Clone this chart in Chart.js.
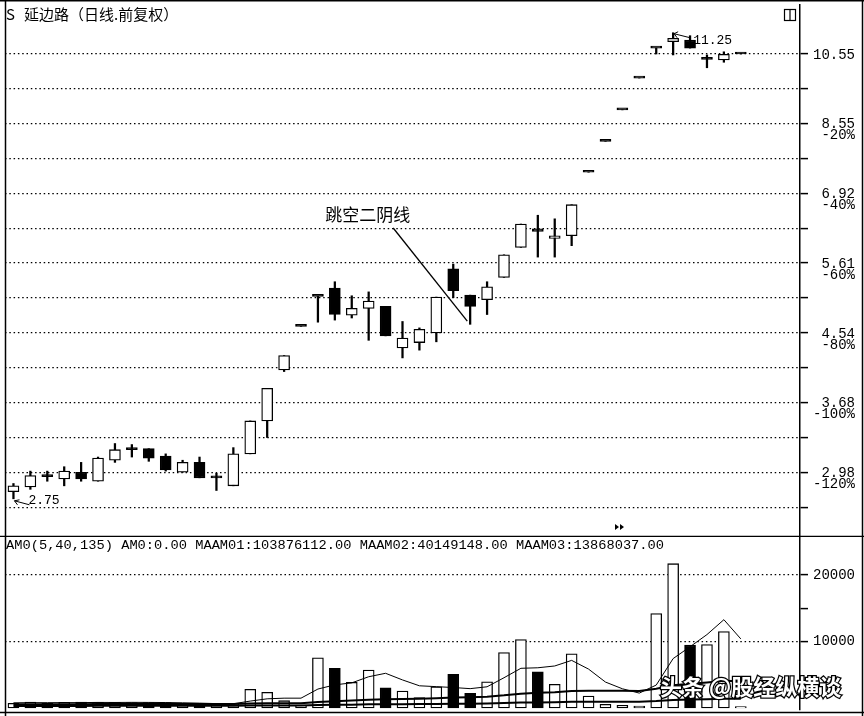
<!DOCTYPE html>
<html><head><meta charset="utf-8">
<script src="https://cdn.jsdelivr.net/npm/chart.js@4.4.0/dist/chart.umd.min.js"></script>
<style>
html,body{margin:0;padding:0;background:#fff;}
#wrap{position:relative;width:864px;height:716px;overflow:hidden;background:#fff;}
#c1{position:absolute;left:0;top:0;}
#c2{position:absolute;left:0;top:537px;}
</style></head><body>
<div id="wrap"><canvas id="c1" width="864" height="537"></canvas><canvas id="c2" width="864" height="179"></canvas></div>
<script>
// ---------- data ----------
const titleCode = 'S';
const titleName = '延边路（日线.前复权）';
const days = ['1','2','3','4','5','6','7','8','9','10','11','12','13','14','15','16','17','18','19','20','21','22','23','24','25','26','27','28','29','30','31','32','33','34','35','36','37','38','39','40','41','42','43','44','','',''];
const openP  = [2.81,2.85,2.94,2.92,2.98,2.90,3.09,3.19,3.20,3.13,2.98,3.07,2.93,2.86,3.15,3.48,4.06,4.63,5.07,5.20,4.79,4.89,4.92,4.34,4.41,4.54,5.51,5.09,5.02,5.37,5.88,6.22,6.04,6.09,7.38,8.10,8.91,9.81,10.74,10.95,11.00,10.38,10.36,10.55];
const highP  = [2.88,2.99,2.99,3.03,3.07,3.12,3.25,3.24,3.20,3.15,3.09,3.12,2.97,3.21,3.48,3.84,4.24,4.63,5.07,5.30,5.08,5.14,4.92,4.70,4.61,5.06,5.59,5.09,5.30,5.75,6.31,6.48,6.41,6.69,7.38,8.10,8.91,9.81,10.74,11.25,11.15,10.52,10.62,10.55];
const lowP   = [2.75,2.83,2.90,2.86,2.90,2.90,3.07,3.12,3.08,2.99,2.98,2.93,2.82,2.86,3.15,3.31,4.04,4.63,4.69,4.72,4.75,4.44,4.50,4.21,4.31,4.42,5.05,4.66,4.80,5.37,5.88,5.71,5.71,5.91,7.38,8.10,8.91,9.81,10.55,10.52,10.74,10.12,10.29,10.55];
const closeP = [2.86,2.95,2.94,2.99,2.92,3.11,3.19,3.19,3.11,3.00,3.07,2.93,2.93,3.15,3.48,3.84,4.24,4.63,5.07,4.80,4.89,5.00,4.50,4.47,4.59,5.06,5.16,4.92,5.22,5.75,6.31,6.17,6.09,6.69,7.38,8.10,8.91,9.81,10.74,11.06,10.74,10.38,10.54,10.55];
const volume = [700,900,700,850,900,850,850,800,800,800,650,600,450,700,2800,2350,1100,450,7550,5950,3850,5700,3050,2550,1550,3200,5050,2200,3950,8350,10300,5450,3550,8150,1800,550,400,300,14200,21700,9450,9550,11500,200];
const maam1  = [780,800,800,810,810,840,830,850,840,820,780,730,660,640,1040,1380,1480,1480,2850,3480,3780,4700,5220,4220,3340,3210,3080,2910,3190,4550,5970,6050,6320,7160,5850,3900,2890,2240,3450,7430,9210,11040,13280,10390];
const maam2  = [560,565,570,575,580,585,590,595,600,605,605,600,600,600,660,710,730,730,900,1030,1110,1240,1310,1360,1390,1460,1570,1620,1710,1900,2150,2280,2360,2550,2580,2580,2575,2565,2900,3420,3640,3850,4110,4015];
const maam3  = [300,305,308,312,316,320,323,326,330,333,336,338,340,342,360,375,382,384,440,480,505,545,565,580,588,605,640,655,680,740,810,840,865,925,935,937,937,937,1040,1200,1265,1330,1385,1387];
const priceTicks  = [2.68,2.98,3.31,3.68,4.09,4.54,5.05,5.61,6.23,6.92,7.69,8.55,9.50,10.55];
const priceLabels = ['','2.98','','3.68','','4.54','','5.61','','6.92','','8.55','','10.55'];
const pctLabels   = ['','-120%','','-100%','','-80%','','-60%','','-40%','','-20%','',''];
const volTicks  = [10000,15000,20000];
const volLabels = ['10000','','20000'];
const volLegend = 'AM0(5,40,135) AM0:0.00 MAAM01:103876112.00 MAAM02:40149148.00 MAAM03:13868037.00';
const noteText = '跳空二阴线';
const notePos  = [20.95, 6.49];
const noteLine = [[22.45, 6.235], [26.83, 4.706]];
const lowMark  = [0, 2.75, '2.75'];
const highMark = [39, 11.25, '11.25'];
const watermark = '头条 @股经纵横谈';

// ---------- build ----------
const idx = openP.map((_, i) => i);
const down = idx.map(i => closeP[i] < openP[i]);
const flat = idx.map(i => closeP[i] === openP[i]);
const bodyColor = idx.map(i => (down[i] || flat[i]) ? '#000' : '#fff');
const volColor = idx.map(i => down[i] ? '#000' : '#fff');
const MONO = "'Liberation Mono', 'DejaVu Sans Mono', monospace";
const CJK = "'Noto Sans CJK SC', sans-serif";

function fixAxis(s){ s.width = 55; s.paddingTop = 0; s.paddingBottom = 0; }
const xAxis = { type: 'category', labels: days, offset: true, display: false };

const deco1 = {
  id: 'deco1',
  afterDraw(chart){
    const ctx = chart.ctx, xs = chart.scales.x, ys = chart.scales.y;
    ctx.save();
    ctx.strokeStyle = '#000'; ctx.fillStyle = '#000'; ctx.lineWidth = 1.5;
    ctx.beginPath();
    ctx.moveTo(0, 0.75); ctx.lineTo(864, 0.75);
    ctx.moveTo(5.5, 0); ctx.lineTo(5.5, 537);
    ctx.moveTo(862.5, 0); ctx.lineTo(862.5, 537);
    ctx.moveTo(0, 536.5); ctx.lineTo(864, 536.5);
    ctx.stroke();
    ctx.textBaseline = 'middle'; ctx.textAlign = 'left';
    ctx.font = "15px " + CJK;
    ctx.fillText(titleCode, 6, 14);
    ctx.fillText(titleName, 24, 14);
    ctx.lineWidth = 1.2;
    ctx.strokeRect(784.5, 9.5, 11, 11);
    ctx.beginPath(); ctx.moveTo(790, 9.5); ctx.lineTo(790, 20.5); ctx.stroke();
    ctx.font = "17px " + CJK; ctx.textAlign = 'center';
    ctx.fillText(noteText, xs.getPixelForValue(notePos[0]), ys.getPixelForValue(notePos[1]));
    ctx.lineWidth = 1.3;
    ctx.beginPath();
    ctx.moveTo(xs.getPixelForValue(noteLine[0][0]), ys.getPixelForValue(noteLine[0][1]));
    ctx.lineTo(xs.getPixelForValue(noteLine[1][0]), ys.getPixelForValue(noteLine[1][1]));
    ctx.stroke();
    ctx.font = "13px " + MONO; ctx.textAlign = 'left'; ctx.lineWidth = 1;
    let lx = xs.getPixelForValue(lowMark[0]), ly = ys.getPixelForValue(lowMark[1]);
    ctx.beginPath(); ctx.moveTo(lx + 1, ly + 2); ctx.lineTo(lx + 16, ly + 6);
    ctx.moveTo(lx + 1, ly + 2); ctx.lineTo(lx + 6, ly + 1);
    ctx.moveTo(lx + 1, ly + 2); ctx.lineTo(lx + 4, ly + 6);
    ctx.stroke();
    ctx.fillText(lowMark[2], lx + 15, ly + 2);
    let hx = xs.getPixelForValue(highMark[0]), hy = ys.getPixelForValue(highMark[1]);
    ctx.beginPath(); ctx.moveTo(hx + 1, hy + 1); ctx.lineTo(hx + 17, hy + 5);
    ctx.moveTo(hx + 1, hy + 1); ctx.lineTo(hx + 5, hy - 1);
    ctx.moveTo(hx + 1, hy + 1); ctx.lineTo(hx + 4, hy + 5);
    ctx.stroke();
    ctx.fillText(highMark[2], hx + 20, hy + 8);
    ctx.beginPath();
    ctx.moveTo(615, 524); ctx.lineTo(619, 527); ctx.lineTo(615, 530); ctx.closePath();
    ctx.moveTo(620, 524); ctx.lineTo(624, 527); ctx.lineTo(620, 530); ctx.closePath();
    ctx.fill();
    ctx.restore();
  }
};

new Chart(document.getElementById('c1'), {
  type: 'bar',
  data: { labels: days, datasets: [
    { data: idx.map(i => [openP[i], closeP[i]]), backgroundColor: bodyColor, borderColor: '#000',
      borderWidth: 1.3, borderSkipped: false, barThickness: 11, minBarLength: 2, grouped: false, order: 0 },
    { data: idx.map(i => [lowP[i], highP[i]]), backgroundColor: '#000', borderWidth: 0,
      barThickness: 1.6, grouped: false, order: 1 }
  ]},
  options: {
    responsive: false, animation: false, events: [],
    layout: { padding: { left: 5, top: 5, right: 9, bottom: 0 } },
    plugins: { legend: { display: false }, tooltip: { enabled: false } },
    scales: {
      x: xAxis,
      y: { type: 'logarithmic', position: 'right', min: 2.4501, max: 12.234,
        afterBuildTicks: s => { s.ticks = priceTicks.map(v => ({ value: v })); },
        afterFit: fixAxis,
        ticks: { callback: (v, i) => [priceLabels[i], pctLabels[i]], color: '#000', crossAlign: 'far',
          padding: 4, labelOffset: 6.5, autoSkip: false, font: { family: MONO, size: 14, lineHeight: 0.8 } },
        grid: { color: '#000', lineWidth: 1.2, tickLength: 8, tickColor: '#000', tickWidth: 1.5, tickBorderDash: [] },
        border: { display: true, color: '#000', width: 1.5, dash: [1.5, 2.8] }
      }
    }
  },
  plugins: [deco1]
});

const deco2 = {
  id: 'deco2',
  afterDraw(chart){
    const ctx = chart.ctx;
    ctx.save();
    ctx.strokeStyle = '#000'; ctx.fillStyle = '#000'; ctx.lineWidth = 1.5;
    ctx.beginPath();
    ctx.moveTo(5.5, 0); ctx.lineTo(5.5, 179);
    ctx.moveTo(862.5, 0); ctx.lineTo(862.5, 179);
    ctx.moveTo(0, 175.5); ctx.lineTo(864, 175.5);
    ctx.stroke();
    ctx.font = "13px " + MONO; ctx.textBaseline = 'middle'; ctx.textAlign = 'left';
    const w = ctx.measureText(volLegend).width;
    ctx.translate(6, 9); ctx.scale(658 / w, 1);
    ctx.fillText(volLegend, 0, 0);
    ctx.restore();
    ctx.save();
    ctx.font = "bold 22px " + CJK; ctx.textBaseline = 'middle'; ctx.textAlign = 'left';
    ctx.lineWidth = 2.5; ctx.strokeStyle = '#000'; ctx.fillStyle = '#fff';
    ctx.strokeText(watermark, 660, 150);
    ctx.fillText(watermark, 660, 150);
    ctx.restore();
  }
};

new Chart(document.getElementById('c2'), {
  type: 'bar',
  data: { labels: days, datasets: [
    { type: 'line', data: maam1, borderColor: '#000', borderWidth: 1, pointRadius: 0, order: -3 },
    { type: 'line', data: maam2, borderColor: '#000', borderWidth: 2, pointRadius: 0, order: -2 },
    { type: 'line', data: maam3, borderColor: '#000', borderWidth: 2, pointRadius: 0, order: -1 },
    { data: volume, backgroundColor: volColor, borderColor: '#000', borderWidth: 1.3,
      borderSkipped: false, barThickness: 11, grouped: false, order: 0 }
  ]},
  options: {
    responsive: false, animation: false, events: [],
    layout: { padding: { left: 5, top: 0, right: 9, bottom: 6 } },
    plugins: { legend: { display: false }, tooltip: { enabled: false } },
    scales: {
      x: xAxis,
      y: { type: 'linear', position: 'right', min: -301, max: 25714,
        afterBuildTicks: s => { s.ticks = volTicks.map(v => ({ value: v })); },
        afterFit: fixAxis,
        ticks: { callback: (v, i) => volLabels[i], color: '#000', crossAlign: 'far', padding: 4, autoSkip: false,
          font: { family: MONO, size: 14 } },
        grid: { color: c => (c.tick && c.tick.value === 15000) ? 'rgba(0,0,0,0)' : '#000', lineWidth: 1.2,
          tickLength: 8, tickColor: '#000', tickWidth: 1.5, tickBorderDash: [] },
        border: { display: true, color: '#000', width: 1.5, dash: [1.5, 2.8] }
      }
    }
  },
  plugins: [deco2]
});
</script>
</body></html>
